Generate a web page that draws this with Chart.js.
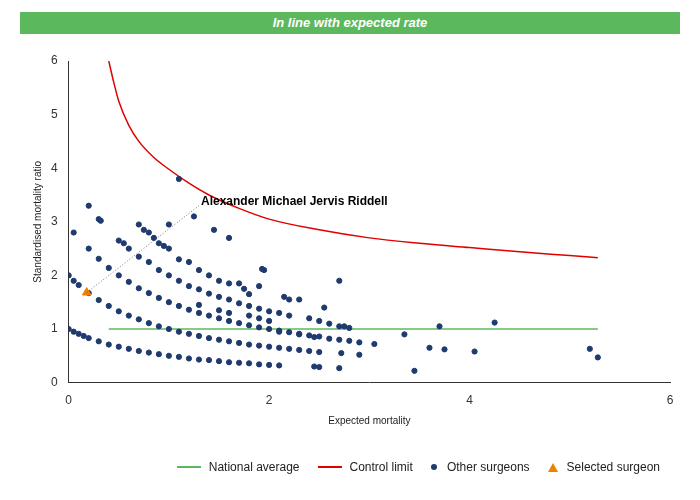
<!DOCTYPE html>
<html>
<head>
<script src="https://cdn.jsdelivr.net/npm/chart.js@4"></script>
<style>
body { margin: 0; background: #fff; font-family: Arial, "Liberation Sans", sans-serif; }
#head { position: absolute; left: 20px; top: 12px; width: 660px; height: 22px; background: #5cb85c;
  color: #fff; font-weight: bold; font-style: italic; font-size: 13px; text-align: center; line-height: 22px; }
#wrap { position: absolute; left: 0; top: 40px; width: 700px; height: 455px; }
#legend { position: absolute; top: 460px; right: 40px; font-size: 12px; color: #222; display: flex; gap: 18px; }
#legend span { display: inline-flex; align-items: center; }
.ln { display: inline-block; width: 24px; height: 2px; margin-right: 8px; }
.dot { display: inline-block; width: 6px; height: 6px; border-radius: 50%; background: #1f3a6e; margin-right: 10px; }
.tri { display: inline-block; width: 0; height: 0; border-left: 5px solid transparent; border-right: 5px solid transparent;
  border-bottom: 9px solid #f08000; margin-right: 9px; }
</style>
</head>
<body>
<div id="head">In line with expected rate</div>
<div id="wrap"><canvas id="c"></canvas></div>
<div id="legend">
  <span><i class="ln" style="background:#5cb85c"></i>National average</span>
  <span><i class="ln" style="background:#e00000"></i>Control limit</span>
  <span><i class="dot"></i>Other surgeons</span>
  <span><i class="tri"></i>Selected surgeon</span>
</div>
<script>
// Other surgeons (expected mortality, SMR)
const othersX = [0,0.05,0.1,0.15,0.2,0.3,0.4,0.5,0.6,0.7,0.8,0.9,1.0,1.1,1.2,1.3,1.4,1.5,1.6,1.7,1.8,1.9,2.0,2.1,
  0,0.05,0.1,0.2,0.3,0.4,0.5,0.6,0.7,0.8,0.9,1.0,1.1,1.2,1.3,1.4,1.5,1.6,1.7,1.8,1.9,2.0,2.1,2.2,2.3,2.4,2.5,
  2.7,2.5,2.45,2.72,2.9,
  0.2,0.3,0.4,0.5,0.6,0.7,0.8,0.9,1.0,1.1,1.2,1.3,1.4,1.5,1.6,1.7,1.8,1.9,2.0,2.1,2.2,2.3,2.4,2.5,
  0.7,0.8,0.9,1.0,1.1,1.2,1.3,1.4,1.5,1.6,1.7,1.8,1.9,2.0,2.1,2.2,
  0.7,0.75,0.8,0.85,0.9,0.95,1.0,0.6,0.5,0.55,0.3,0.32,0.2,0.05,1.0,1.1,1.25,1.45,1.6,1.95,1.93,1.9,2.7,2.55,2.2,2.3,2.15,
  2.4,2.5,2.6,2.7,2.75,2.8,2.7,2.8,2.9,3.05,3.35,3.45,3.6,3.7,3.75,4.05,4.25,5.2,5.28,
  1.1,1.2,1.3,1.4,1.5,1.6,1.7,1.75,1.8,1.3,1.5,1.6,1.8,1.9,2.0,2.1,2.3,2.45,2.6];
const othersY = [1.0,0.95,0.91,0.87,0.83,0.77,0.71,0.67,0.63,0.59,0.56,0.53,0.50,0.48,0.45,0.43,0.42,0.40,0.38,0.37,0.36,0.34,0.33,0.32,
  2.0,1.9,1.82,1.67,1.54,1.43,1.33,1.25,1.18,1.11,1.05,1.0,0.95,0.91,0.87,0.83,0.8,0.77,0.74,0.71,0.69,0.67,0.65,0.63,0.61,0.59,0.57,
  0.27,0.29,0.3,0.55,0.52,
  2.5,2.31,2.14,2.0,1.88,1.76,1.67,1.58,1.5,1.43,1.36,1.30,1.25,1.2,1.15,1.11,1.07,1.03,1.0,0.97,0.94,0.91,0.88,0.86,
  2.35,2.25,2.1,2.0,1.9,1.8,1.74,1.66,1.6,1.55,1.48,1.43,1.38,1.33,1.3,1.25,
  2.95,2.85,2.8,2.7,2.6,2.55,2.5,2.5,2.65,2.6,3.05,3.02,3.3,2.8,2.95,3.8,3.1,2.85,2.7,2.1,2.12,1.8,1.9,1.4,1.55,1.55,1.6,
  1.2,1.15,1.1,1.05,1.05,1.02,0.8,0.78,0.75,0.72,0.9,0.22,0.65,1.05,0.62,0.58,1.12,0.63,0.47,
  2.3,2.25,2.1,2.0,1.9,1.85,1.85,1.75,1.65,1.45,1.35,1.3,1.25,1.2,1.15,0.95,0.9,0.85,0.82];
const selectedX = [0.18];
const selectedY = [1.68];
const selectedName = 'Alexander Michael Jervis Riddell';
const limitX = [0.4,0.45,0.5,0.6,0.7,0.85,1.0,1.2,1.4,1.7,2.0,2.5,3.0,3.5,4.0,4.5,5.0,5.28];
const limitY = [6.0,5.6,5.25,4.8,4.5,4.2,3.98,3.72,3.5,3.25,3.05,2.85,2.7,2.6,2.52,2.44,2.37,2.33];
const nationalX = [0.4,5.28];
const nationalY = [1,1];

const pts = (xs, ys) => xs.map((x, i) => ({x: x, y: ys[i]}));

const labelPlugin = {
  id: 'label',
  afterDatasetsDraw(chart) {
    const {ctx, scales: {x, y}} = chart;
    const x0 = x.getPixelForValue(selectedX[0]), y0 = y.getPixelForValue(selectedY[0]);
    const x1 = x.getPixelForValue(1.3), y1 = y.getPixelForValue(3.3);
    ctx.save();
    ctx.strokeStyle = '#555'; ctx.lineWidth = 0.8; ctx.setLineDash([1, 2]);
    ctx.beginPath(); ctx.moveTo(x0, y0); ctx.lineTo(x1, y1); ctx.stroke();
    ctx.fillStyle = '#000'; ctx.font = 'bold 12px Arial, "Liberation Sans"';
    ctx.textBaseline = 'middle';
    ctx.fillText(selectedName, x1 + 2, y1 - 4);
    ctx.restore();
  }
};

new Chart(document.getElementById('c'), {
  type: 'scatter',
  data: {
    datasets: [
      { label: 'National average', type: 'line', data: pts(nationalX, nationalY), borderColor: '#5cb85c',
        borderWidth: 1.5, pointRadius: 0, order: 3 },
      { label: 'Control limit', type: 'line', data: pts(limitX, limitY), borderColor: '#e00000',
        borderWidth: 1.5, pointRadius: 0, cubicInterpolationMode: 'monotone', order: 3 },
      { label: 'Other surgeons', data: pts(othersX, othersY), backgroundColor: '#1f3a6e', borderColor: '#1f3a6e',
        pointRadius: 2.6, order: 2 },
      { label: 'Selected surgeon', data: pts(selectedX, selectedY), backgroundColor: '#f08000', borderColor: '#f08000',
        pointStyle: 'triangle', pointRadius: 5, order: 1 }
    ]
  },
  options: {
    responsive: true, maintainAspectRatio: false, animation: false,
    layout: { padding: { left: 28, right: 30, top: 21, bottom: 64 } },
    plugins: { legend: { display: false }, tooltip: { enabled: false } },
    scales: {
      x: { type: 'linear', min: 0, max: 6, ticks: { stepSize: 2, color: '#333', font: { size: 12 } },
        grid: { display: false }, border: { color: '#333' },
        title: { display: true, text: 'Expected mortality', color: '#222', font: { size: 10 } } },
      y: { min: 0, max: 6, ticks: { stepSize: 1, color: '#333', font: { size: 12 } },
        grid: { display: false }, border: { color: '#333' },
        title: { display: true, text: 'Standardised mortality ratio', color: '#222', font: { size: 10 } } }
    }
  },
  plugins: [labelPlugin]
});
</script>
</body>
</html>
